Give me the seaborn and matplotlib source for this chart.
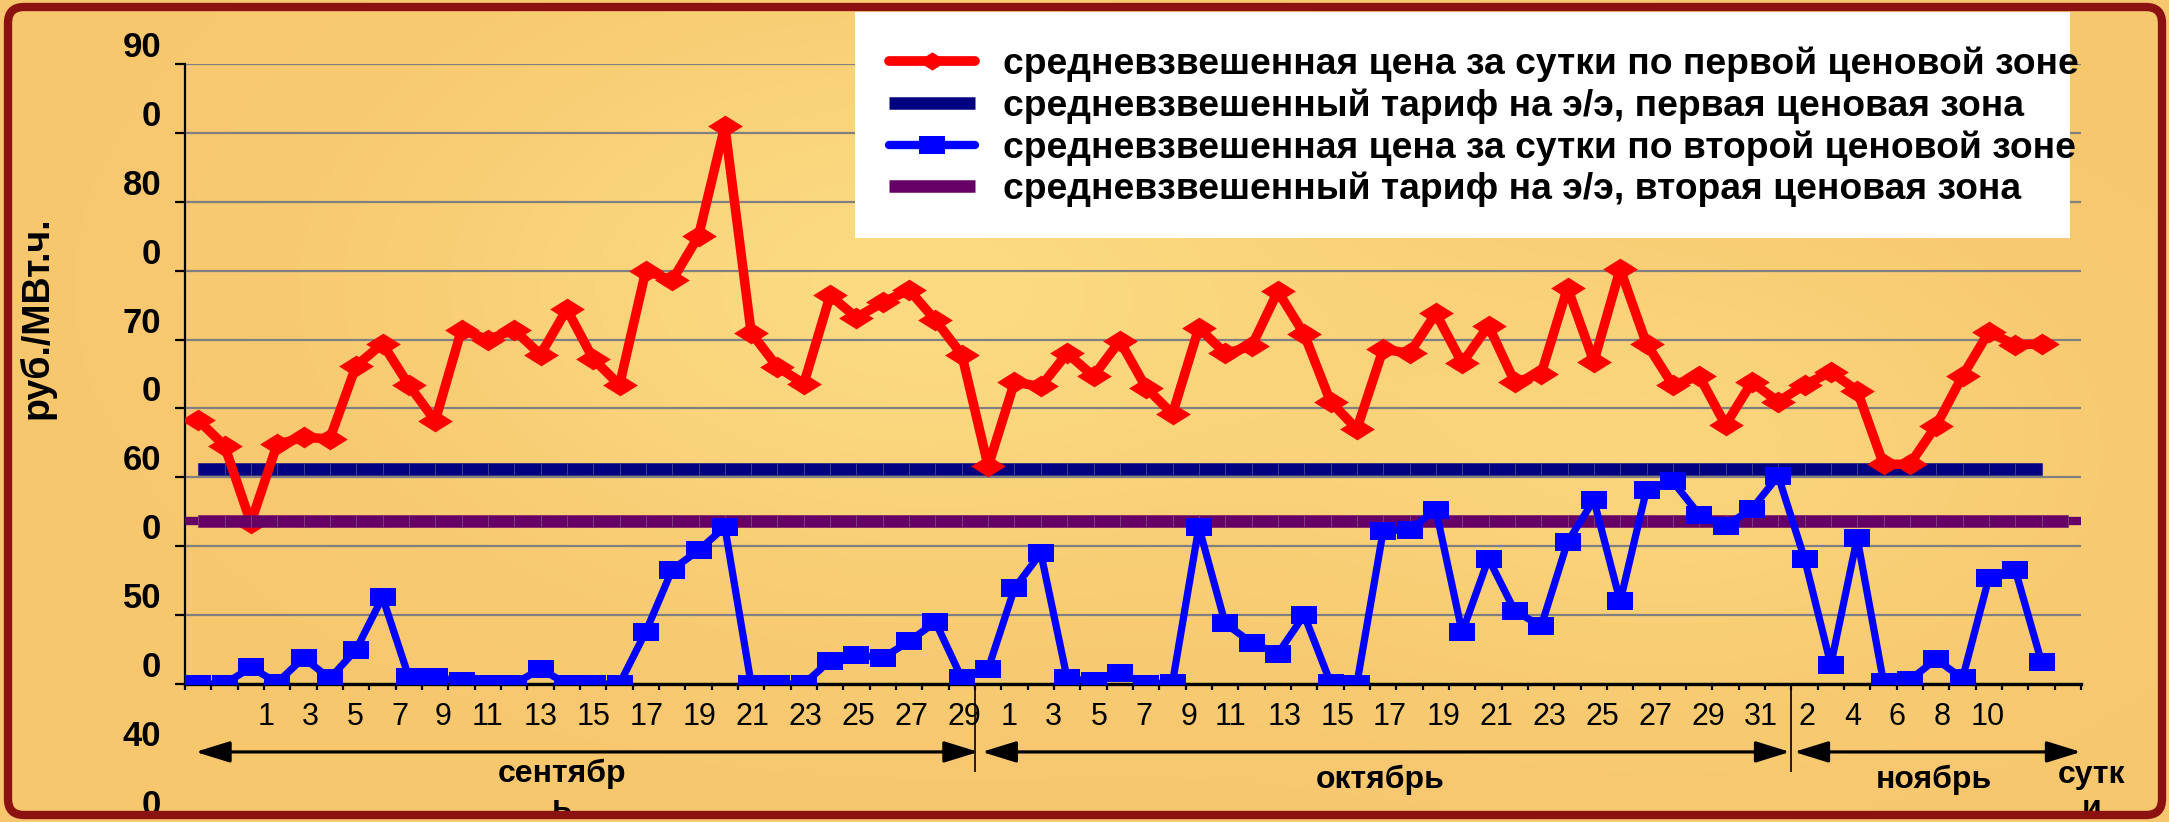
import numpy as np
import matplotlib
matplotlib.use("Agg")
import matplotlib.pyplot as plt
import seaborn as sns
from matplotlib.lines import Line2D
from matplotlib.patches import FancyBboxPatch, Rectangle, FancyArrowPatch, ArrowStyle

sns.set_style("white")
plt.rcParams['font.family'] = ['Liberation Sans', 'DejaVu Sans']
plt.rcParams['text.color'] = 'black'
plt.rcParams['xtick.color'] = 'black'
plt.rcParams['ytick.color'] = 'black'
plt.rcParams['axes.labelcolor'] = 'black'

# ---------------- data ----------------
price_zone1 = [641.5, 623, 567, 624, 629, 628, 681, 697, 667, 641,
               707, 700, 707, 689, 722, 686, 667, 750, 743, 775,
               855, 705, 680, 668, 732, 716, 727, 736, 714, 689,
               608, 669, 666, 690, 673.5, 699, 665, 646, 708.5, 690,
               695, 735, 704, 655, 635, 693, 690, 719, 683, 710,
               669, 675, 737.5, 684, 751, 697, 667, 673.5, 638, 669,
               655, 667, 676.5, 663, 609.5, 609.5, 637.5, 673.5, 705.5, 696, 697]
price_zone2 = [450, 450, 462, 451, 469, 454, 475, 513, 455, 455,
               452, 450, 450, 461, 450, 450, 450, 488, 533, 547,
               564, 450, 450, 450, 467, 471, 469, 481, 495, 454,
               461, 519.5, 545, 454, 452, 458, 450, 451, 564, 494,
               480, 472, 500, 451, 450, 561, 562, 576.5, 487.5, 541,
               503, 492, 553, 583.5, 510, 591, 597, 573, 565, 577,
               601, 541, 464, 556, 451.5, 453, 468, 454, 527, 533, 466]
tariff_zone1 = 606
tariff_zone2 = 568

day_tick_labels = ["1", "3", "5", "7", "9", "11", "13", "15", "17", "19", "21", "23", "25", "27", "29",
                   "1", "3", "5", "7", "9", "11", "13", "15", "17", "19", "21", "23", "25", "27", "29", "31",
                   "2", "4", "6", "8", "10"]
y_tick_labels = ["90", "0", "80", "0", "70", "0", "60", "0", "50", "0", "40", "0"]
month_labels = ["сентябр\nь", "октябрь", "ноябрь"]
x_unit_label = "сутк\nи"
y_title = "руб./МВт.ч."
legend_labels = ["средневзвешенная цена за сутки по первой ценовой зоне",
                 "средневзвешенный тариф на э/э, первая ценовая зона",
                 "средневзвешенная цена за сутки по второй ценовой зоне",
                 "средневзвешенный тариф на э/э, вторая ценовая зона"]

# ---------------- layout constants ----------------
W, H = 2169, 822
day_label_pos = [2.59, 4.27, 5.98, 7.66, 9.31, 10.99, 13.0, 15.02, 17.03, 19.04, 21.05, 23.07, 25.08, 27.09, 29.1,
                 30.79, 32.49, 34.21, 35.92, 37.62, 39.22, 41.24, 43.25, 45.26, 47.28, 49.29, 51.3, 53.31,
                 55.33, 57.34, 59.35,
                 61.09, 62.82, 64.52, 66.22, 67.97]
month_spans = [(-0.1, 29.63), (29.76, 60.45), (60.6, 71.5)]
month_label_x = [13.8, 44.9, 65.9]
dividers = [29.5, 60.5]

RED = '#FF0000'
NAVY = '#000080'
BLUE = '#0000FF'
PURPLE = '#660066'

fig = plt.figure(figsize=(W / 100, H / 100), dpi=100)
fig.patch.set_facecolor('#F8CB70')

# background gradient
bg = fig.add_axes([0, 0, 1, 1], zorder=-5)
bg.axis('off')
gy, gx = np.mgrid[0:1:206j, 0:1:543j]
base = np.array([247, 199, 110]) / 255
light = np.array([252, 221, 132]) / 255
wgt = 0.9 * np.exp(-((gx - 0.42) ** 2 / 0.05 + (gy - 0.35) ** 2 / 0.12))
wgt += 0.6 * np.exp(-((gx - 0.78) ** 2 / 0.03 + (gy - 0.55) ** 2 / 0.08))
wgt = np.clip(wgt, 0, 1)
img = base + (light - base) * wgt[..., None]
bg.imshow(img, extent=[0, 1, 0, 1], aspect='auto', interpolation='bilinear', origin='upper')
bg.set_xlim(0, 1)
bg.set_ylim(0, 1)

# main axes
ax = fig.add_axes([185 / W, 1 - 684 / H, (2081 - 185) / W, (684 - 64) / H], zorder=1)
ax.set_facecolor('none')

n = len(price_zone1)
idx = np.arange(n)

# tariff lines
ax.plot([-0.5, 71.5], [tariff_zone2, tariff_zone2], color=PURPLE, lw=6, solid_capstyle='butt', zorder=4)
sns.lineplot(x=np.arange(n), y=[tariff_zone1] * n, color=NAVY, lw=9, marker='|', markersize=9,
             markeredgecolor='#3b3b8c', markeredgewidth=0.8, solid_capstyle='butt', ax=ax, zorder=2)
sns.lineplot(x=np.arange(n + 1), y=[tariff_zone2] * (n + 1), color=PURPLE, lw=9, marker='|', markersize=9,
             markeredgecolor='#7a3a7a', markeredgewidth=0.8, solid_capstyle='butt', ax=ax, zorder=4)

diamond = [(-1, 0), (0, 0.625), (1, 0), (0, -0.625), (-1, 0)]
rect = [(-1, -0.71), (1, -0.71), (1, 0.71), (-1, 0.71), (-1, -0.71)]

sns.lineplot(x=idx, y=price_zone1, color=RED, lw=6.8, marker=diamond, markersize=25,
             markeredgewidth=0, markerfacecolor=RED, ax=ax, zorder=3)
sns.lineplot(x=idx, y=price_zone2, color=BLUE, lw=5.2, marker=rect, markersize=19,
             markeredgewidth=0, markerfacecolor=BLUE, ax=ax, zorder=5)

ax.set_xlim(-0.5, 71.5)
ax.set_ylim(450, 900)
ax.set_yticks(np.arange(450, 901, 50))
ax.yaxis.grid(True, color='#808080', lw=1.6)
ax.xaxis.grid(False)
ax.set_axisbelow(True)
ax.tick_params(axis='y', direction='out', length=7.5, width=1.6, color='black', labelleft=False, left=True)
ax.set_xticks(day_label_pos)
ax.set_xticklabels(day_tick_labels, fontsize=22, color='black')
ax.set_xticks(np.arange(-0.5, 72, 1), minor=True)
ax.tick_params(axis='x', which='major', length=0, pad=13, bottom=True, labelcolor='black')
ax.tick_params(axis='x', which='minor', direction='out', length=4.5, width=1.6, color='black', bottom=True)
ax.set_xlabel('')
ax.set_ylabel('')
for s in ['top', 'right']:
    ax.spines[s].set_visible(False)
ax.spines['left'].set_linewidth(1.6)
ax.spines['left'].set_color('black')
ax.spines['bottom'].set_linewidth(2.4)
ax.spines['bottom'].set_color('black')

# y tick labels (as in the reference)
for k, lab in enumerate(y_tick_labels):
    ax.text(-0.0125, 900 - 50 * k + 12, lab, transform=ax.get_yaxis_transform(), ha='right', va='center',
            fontsize=25, fontweight='bold', color='black', clip_on=False)

# y title
fig.text(37 / W, 1 - 318 / H, y_title, rotation=90, ha='center', va='center', fontsize=27,
         fontweight='bold', color='black')

# dividers
ax.vlines(dividers, 386, 450, color='black', lw=1.2, clip_on=False)

# month arrows
for (a, b) in month_spans:
    arr = FancyArrowPatch((a, 400.7), (b, 400.7), arrowstyle=ArrowStyle('<|-|>', head_length=21, head_width=6.5),
                          mutation_scale=1, lw=2.3, color='black', shrinkA=0, shrinkB=0, clip_on=False)
    ax.add_patch(arr)

for lab, xm in zip(month_labels, month_label_x):
    if '\n' in lab:
        ax.text(xm, 395.5, lab, ha='center', va='top', fontsize=23, fontweight='bold', color='black',
                clip_on=False, linespacing=1.2)
    else:
        ax.text(xm, 380.4, lab, ha='center', va='center', fontsize=23, fontweight='bold', color='black',
                clip_on=False)
ax.text(71.9, 395, x_unit_label, ha='center', va='top', fontsize=23, fontweight='bold', color='black',
        clip_on=False, linespacing=1.2)

# legend box
fig.add_artist(Rectangle((855, H - 238), 2070 - 855, 226, transform=None, facecolor='white',
                         edgecolor='none', zorder=3))
handles = [
    Line2D([], [], color=RED, lw=7, marker=diamond, markersize=21, markeredgewidth=0),
    Line2D([], [], color=NAVY, lw=9, solid_capstyle='butt'),
    Line2D([], [], color=BLUE, lw=6, marker=rect, markersize=19, markeredgewidth=0),
    Line2D([], [], color=PURPLE, lw=9, solid_capstyle='butt'),
]
leg = fig.legend(handles, legend_labels, loc='center left', bbox_to_anchor=(889 / W, 1 - 127 / H),
                 frameon=False, handlelength=2.3, handletextpad=0.75, labelspacing=0.17,
                 borderpad=0, borderaxespad=0, numpoints=1, labelcolor='black',
                 prop={'family': ['Liberation Sans', 'DejaVu Sans'], 'weight': 'bold', 'size': 26.8})
leg.set_zorder(4)

# frame border
fig.add_artist(FancyBboxPatch((8, 7), 2154, 808, boxstyle='round,pad=0,rounding_size=16', transform=None,
                              fill=False, edgecolor='#8C1212', lw=6, zorder=6))

fig.savefig('out.png', dpi=100, facecolor=fig.get_facecolor())
